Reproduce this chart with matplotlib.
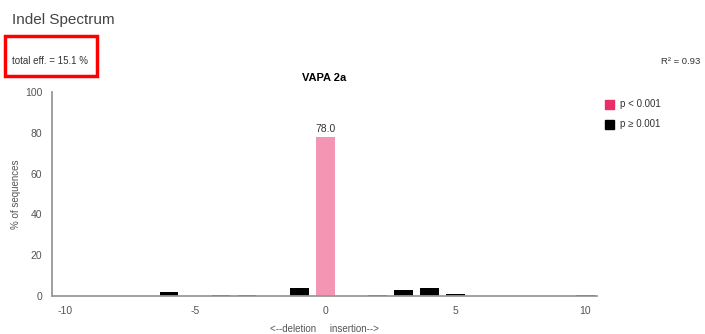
import matplotlib.pyplot as plt
from matplotlib.patches import Rectangle

plt.rcParams['font.family'] = ['Liberation Sans', 'DejaVu Sans']
plt.rcParams['axes.unicode_minus'] = False

# indel size vs % of sequences
sizes = [-6, -4, -3, -1, 0, 2, 3, 4, 5, 10]
percent = [2.2, 0.6, 0.6, 3.8, 78.0, 0.6, 2.8, 3.8, 0.8, 0.6]
significant = [False, False, False, False, True, False, False, False, False, False]

xticks = [-10, -5, 0, 5, 10]
yticks = [0, 20, 40, 60, 80, 100]

pink = '#f595b4'
pink_legend = '#ea2e68'
grey = '#555555'

fig = plt.figure(figsize=(7.05, 3.34), dpi=100)
ax = fig.add_axes([52 / 705, 1 - 296 / 334, 545 / 705, 204 / 334])

colors = [pink if s else 'black' for s in significant]
ax.bar(sizes, percent, width=0.72, color=colors, zorder=2)
for x, y, s in zip(sizes, percent, significant):
    if s:
        ax.text(x, y + 1.5, f'{y:.1f}', ha='center', va='bottom', fontsize=7.5, color='#333333')

ax.set_xlim(-10.5, 10.45)
ax.set_ylim(0, 100)
ax.set_xticks(xticks)
ax.set_yticks(yticks)
ax.tick_params(length=0, labelsize=7.5, colors=grey, pad=7)
for side in ['top', 'right']:
    ax.spines[side].set_visible(False)
for side in ['left', 'bottom']:
    ax.spines[side].set_color('#999999')
    ax.spines[side].set_linewidth(1.3)
ax.set_ylabel('% of sequences', fontsize=7, color=grey)
ax.yaxis.set_label_coords(-31 / 545, 0.5)
ax.set_xlabel('<--deletion     insertion-->', fontsize=7, color=grey, labelpad=6)
ax.set_title('VAPA 2a', fontsize=8, fontweight='bold', pad=8)

# headers
fig.text(12 / 705, 1 - 20 / 334, 'Indel Spectrum', fontsize=11, color='#444444', va='center')
fig.text(12 / 705, 1 - 61 / 334, 'total eff. = 15.1 %', fontsize=7, color='#333333', va='center')
fig.patches.append(Rectangle((5 / 705, 1 - 76 / 334), 92 / 705, 40 / 334, transform=fig.transFigure,
                             fill=False, edgecolor='#ff0000', linewidth=2.5))
fig.text(700 / 705, 1 - 62 / 334, 'R² = 0.93', fontsize=6.8, color='#333333', va='center', ha='right')

# legend
for yy, c, lab in [(104, pink_legend, 'p < 0.001'), (124, 'black', 'p ≥ 0.001')]:
    fig.patches.append(Rectangle((605 / 705, 1 - (yy + 5) / 334), 9 / 705, 9 / 334,
                                 transform=fig.transFigure, color=c))
    fig.text(620 / 705, 1 - yy / 334, lab, fontsize=7, color='#333333', va='center')

fig.savefig('out.png', dpi=100)
